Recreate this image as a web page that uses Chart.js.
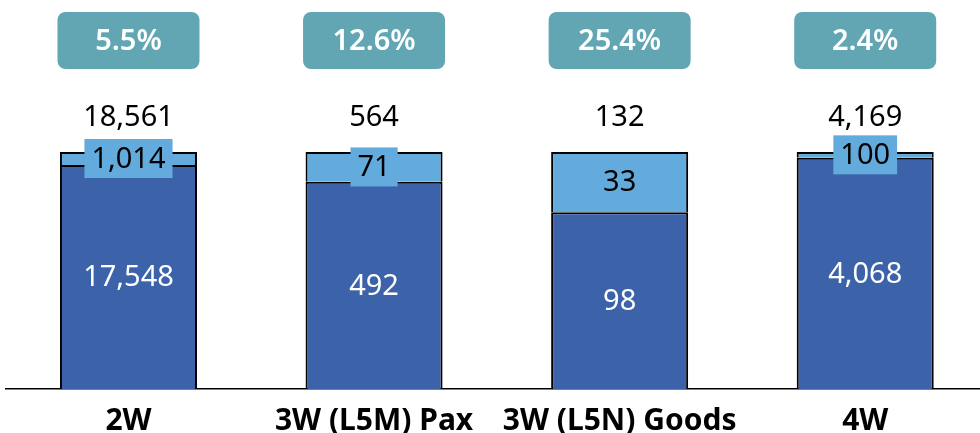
<!DOCTYPE html>
<html>
<head>
<meta charset="utf-8">
<script src="https://cdn.jsdelivr.net/npm/chart.js@4.4.0/dist/chart.umd.min.js"></script>
<style>
  html, body { margin: 0; padding: 0; background: #fff; overflow: hidden; }
  #wrap { width: 990px; height: 433px; }
</style>
</head>
<body>
<div id="wrap"><canvas id="evChart" width="990" height="433"></canvas></div>
<script>
// data
var categories = ["2W", "3W (L5M) Pax", "3W (L5N) Goods", "4W"];
var baseCounts = [17548, 492, 98, 4068];     // dark segment labels
var topCounts = [1014, 71, 33, 100];         // light segment labels
var totalCounts = [18561, 564, 132, 4169];   // above bars
var shareLabels = ["5.5%", "12.6%", "25.4%", "2.4%"];
var basePct = [94.5, 87.4, 74.6, 97.6];      // plotted share of bar
var topPct = [5.5, 12.6, 25.4, 2.4];

var FONT = "'Noto Sans', 'Open Sans', sans-serif";
var DARK = "#3c63a9";
var LIGHT = "#63aadd";
var TEAL = "#62a6b3";

function fmt(n) { return n.toLocaleString("en-US"); }

//labels, boxes and totals drawn over the bars
var labelPlugin = {
    id: "labelPlugin",
    afterDatasetsDraw: function (chart) {
        var ctx = chart.ctx;
        var darkMeta = chart.getDatasetMeta(0);
        var lightMeta = chart.getDatasetMeta(1);
        ctx.save();
        ctx.textAlign = "center";
        ctx.textBaseline = "middle";
        ctx.font = "29px " + FONT;

        for (var i = 0; i < categories.length; i++) {
            var d = darkMeta.data[i];
            var l = lightMeta.data[i];
            var x = d.x;

            // dark segment value
            ctx.fillStyle = "#fff";
            ctx.fillText(fmt(baseCounts[i]), x, (d.y + d.base) / 2 + 1);

            // light segment value with its own box
            var txt = fmt(topCounts[i]);
            var w = ctx.measureText(txt).width + 14;
            var cy = (l.y + l.base) / 2;
            ctx.fillStyle = LIGHT;
            ctx.fillRect(x - w / 2, cy - 19.5, w, 39);
            ctx.fillStyle = "#000";
            ctx.fillText(txt, x, cy + 1);

            // total above bar
            ctx.fillText(fmt(totalCounts[i]), x, l.y - 34);

            // share box
            var bw = 142, bh = 57, top = l.y - 140;
            ctx.fillStyle = TEAL;
            ctx.beginPath();
            ctx.roundRect(x - bw / 2, top, bw, bh, 8);
            ctx.fill();
            ctx.fillStyle = "#fff";
            ctx.font = "600 29px " + FONT;
            ctx.fillText(shareLabels[i], x, top + bh / 2 + 1);
            ctx.font = "29px " + FONT;
        }
        ctx.restore();
    }
};

var ctx = document.getElementById("evChart").getContext("2d");
window.evChart = new Chart(ctx, {
    type: "bar",
    data: {
        labels: categories,
        datasets: [
            {
                label: "base",
                data: basePct,
                backgroundColor: DARK,
                borderColor: "#000",
                borderWidth: 2,
                borderSkipped: "bottom"
            },
            {
                label: "top",
                data: topPct,
                backgroundColor: LIGHT,
                borderColor: "#000",
                borderWidth: 2,
                borderSkipped: "bottom"
            }
        ]
    },
    options: {
        responsive: false,
        animation: false,
        events: [],
        layout: { padding: { left: 5.7, right: 2, top: 152, bottom: -20 } },
        datasets: { bar: { barPercentage: 0.558, categoryPercentage: 1 } },
        plugins: {
            legend: { display: false },
            tooltip: { enabled: false }
        },
        scales: {
            x: {
                stacked: true,
                grid: { display: false, drawTicks: false },
                border: { display: true, color: "#000", width: 1.5 },
                ticks: {
                    color: "#000",
                    padding: 14,
                    font: { family: FONT, size: 30, weight: "bold" }
                }
            },
            y: {
                stacked: true,
                display: false,
                min: 0,
                max: 100
            }
        }
    },
    plugins: [labelPlugin]
});
</script>
</body>
</html>
